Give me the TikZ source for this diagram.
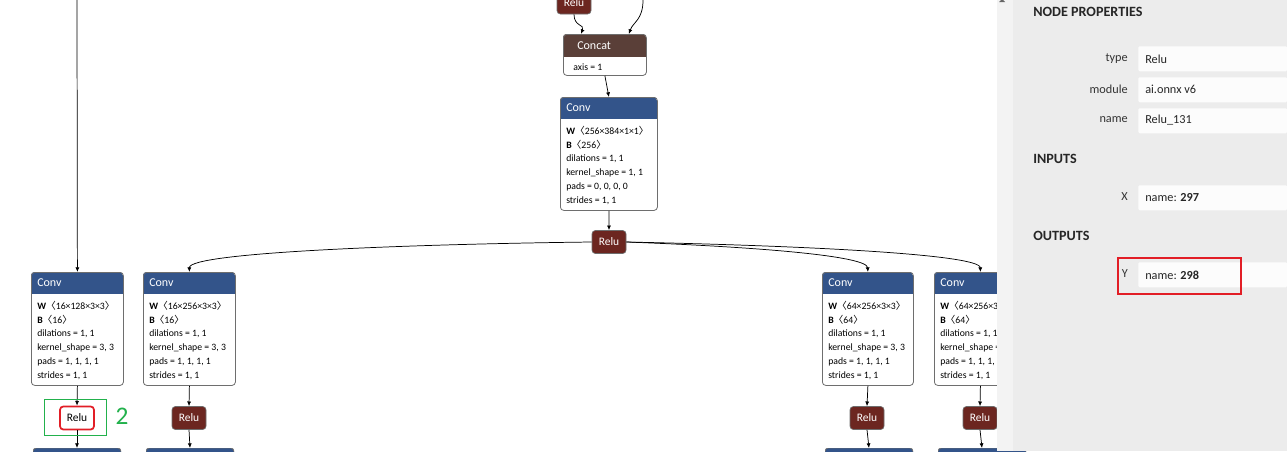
\documentclass[tikz,border=0pt]{standalone}
\usepackage{fontspec}
\setmainfont{Carlito}
\newfontfamily\cjkbr{Noto Sans CJK SC}
\usetikzlibrary{arrows.meta}
\definecolor{convblue}{RGB}{51,84,138}
\definecolor{concatbrown}{RGB}{90,63,56}
\definecolor{relured}{RGB}{108,38,32}
\definecolor{framegray}{RGB}{110,110,110}
\definecolor{panelbg}{RGB}{236,236,236}
\definecolor{stripbg}{RGB}{243,243,243}
\definecolor{valbg}{RGB}{252,252,252}
\definecolor{hlred}{RGB}{226,30,38}
\definecolor{hlgreen}{RGB}{34,177,76}
\newcommand\lb{{\cjkbr 〈}}
\newcommand\rb{{\cjkbr 〉}}
\tikzset{
  hdr/.style={font=\fontsize{9}{10}\selectfont, text=white, anchor=west, inner sep=0},
  attr/.style={font=\fontsize{7.3}{8}\selectfont, anchor=west, inner sep=0},
  opframe/.style={draw=framegray, line width=0.6pt, rounded corners=2.5pt, inner sep=0},
  relubox/.style={draw=framegray, line width=0.5pt, fill=relured, rounded corners=2.5pt,
     minimum width=34*0.75pt, minimum height=23*0.75pt, text=white,
     font=\fontsize{8.6}{9}\selectfont, inner sep=0},
  edge/.style={draw=black, line width=0.55pt, -{Latex[length=3.5pt,width=3pt]}},
  plabel/.style={font=\fontsize{9.2}{10}\selectfont, anchor=east, inner sep=0, text=black!80},
  phead/.style={font=\bfseries\fontsize{10.6}{11}\selectfont, anchor=west, inner sep=0, text=black!85},
  pval/.style={font=\fontsize{9.2}{10}\selectfont, anchor=west, inner sep=0, text=black!85},
  valbox/.style={fill=valbg, rounded corners=1pt, minimum width=149*0.75pt, minimum height=25*0.75pt, anchor=north west, inner sep=0},
}
% #1 name, #2 x, #3 y, #4 width, #5 W, #6 B, #7 kernel, #8 pads
\newcommand\convblk[8]{%
  \begin{scope}
    \clip[rounded corners=2.5pt] (#2,#3) rectangle ++(#4,113);
    \fill[white] (#2,#3) rectangle ++(#4,113);
    \fill[convblue] (#2,#3) rectangle ++(#4,22);
  \end{scope}
  \node[opframe, minimum width=#4*0.75pt, minimum height=113*0.75pt, anchor=north west] (#1) at (#2,#3) {};
  \node[hdr] (#1h) at ([shift={(6,11)}]#2,#3) {Conv};
  \node[attr] (#1w) at ([shift={(6,34)}]#2,#3) {\textbf{W}\lb#5\rb};
  \node[attr] (#1b) at ([shift={(6,48)}]#2,#3) {\textbf{B}\lb#6\rb};
  \node[attr] (#1d) at ([shift={(6,62)}]#2,#3) {dilations = 1, 1};
  \node[attr] (#1k) at ([shift={(6,76)}]#2,#3) {kernel\_shape = #7};
  \node[attr] (#1p) at ([shift={(6,90)}]#2,#3) {pads = #8};
  \node[attr] (#1s) at ([shift={(6,104)}]#2,#3) {strides = 1, 1};
}
\newcommand\partblk[3]{%
  \begin{scope}
    \clip (#2,#3) rectangle (#2+88,451);
    \fill[convblue, draw=framegray, line width=0.6pt, rounded corners=2.5pt] (#2,#3) rectangle ++(88,30);
  \end{scope}
  \coordinate (#1) at (#2+44,#3);
}
\begin{document}
\begin{tikzpicture}[x=0.75pt,y=-0.75pt]
\useasboundingbox (0,0) rectangle (1287,451);
\fill[white] (0,0) rectangle (1287,451);

% top partial Relu
\node[relubox, minimum height=28*0.75pt] (rtop) at (574,0) {};
\node[font=\fontsize{8.6}{9}\selectfont, text=white, inner sep=0] (rtopt) at (574,3) {Relu};
\coordinate (ctopin) at (643,0);

% Concat
\begin{scope}
  \clip[rounded corners=2.5pt] (563,34) rectangle ++(83,41);
  \fill[white] (563,34) rectangle ++(83,41);
  \fill[concatbrown] (563,34) rectangle ++(83,23);
\end{scope}
\node[opframe, minimum width=83*0.75pt, minimum height=41*0.75pt, anchor=north west] (concat) at (563,34) {};
\node[hdr] (concath) at (577,46) {Concat};
\node[attr] (concata) at (573,67) {axis = 1};

% Conv (top)
\convblk{ctop}{560}{97}{97}{256×384×1×1}{256}{1, 1}{0, 0, 0, 0}

% Relu (centre)
\node[relubox] (rmid) at (609,242) {Relu};

% lower Conv blocks
\convblk{ca}{31}{272}{92}{16×128×3×3}{16}{3, 3}{1, 1, 1, 1}
\convblk{cb}{143}{272}{92}{16×256×3×3}{16}{3, 3}{1, 1, 1, 1}
\convblk{cc}{822}{272}{91}{64×256×3×3}{64}{3, 3}{1, 1, 1, 1}
\convblk{cd}{934}{272}{92}{64×256×3×3}{64}{3, 3}{1, 1, 1, 1}

% lower Relus
\node[relubox, fill=white, draw=hlred, line width=1.3pt, text=black] (ra) at (77,418) {Relu};
\node[relubox] (rb) at (189,418) {Relu};
\node[relubox] (rc) at (867,418) {Relu};
\node[relubox] (rd) at (980,418) {Relu};

% partial blocks at the bottom
\partblk{na}{33}{448}
\partblk{nb}{146}{448}
\partblk{nc}{825}{448}
\partblk{nd}{938}{448}

% edges
\coordinate (leftin) at (77,0);
\draw[edge] (leftin) -- (ca.north);
\draw[edge] (rtop.south) .. controls (574,27) and (585,24) .. ([xshift=-24*0.75pt]concat.north);
\draw[edge] (ctopin) .. controls (643,20) and (633,22) .. ([xshift=24*0.75pt]concat.north);
\draw[edge] (concat.south) -- (ctop.north);
\draw[edge] (ctop.south) -- (rmid.north);
\draw[edge] (rmid.west) .. controls (420,244) and (189,252) .. (cb.north);
\draw[edge] (rmid.east) .. controls (760,247) and (867,256) .. (cc.north);
\draw[edge] (rmid.east) .. controls (820,246) and (980,255) .. (cd.north);
\draw[edge] (ca.south) -- (ra.north);
\draw[edge] (cb.south) -- (rb.north);
\draw[edge] (cc.south) -- (rc.north);
\draw[edge] (cd.south) -- (rd.north);
\draw[edge] (ra.south) -- (na);
\draw[edge] (rb.south) -- (nb);
\draw[edge] (rc.south) -- (nc);
\draw[edge] (rd.south) -- (nd);

% annotation
\node[draw=hlgreen, line width=1.3pt, minimum width=62*0.75pt, minimum height=36*0.75pt, inner sep=0] (gbox) at (75.5,417.5) {};
\node[text=hlgreen, font=\fontsize{19}{20}\selectfont, inner sep=0] (gnum) at (122,416) {2};

% side panel
\fill[stripbg] (997,0) rectangle (1013,451);
\fill[panelbg] (1013,0) rectangle (1287,451);
\fill[black!60] (999,2) -- (1005,2) -- (1002,-1) -- cycle;

\node[phead] (ptitle) at (1033,12) {NODE PROPERTIES};
\node[valbox] (btype) at (1138,46) {};
\node[valbox] (bmod) at (1138,77) {};
\node[valbox] (bname) at (1138,108) {};
\node[plabel] (ltype) at (1128,59) {type};
\node[plabel] (lmod) at (1128,89) {module};
\node[plabel] (lname) at (1128,120) {name};
\node[pval] (vtype) at (1145,59) {Relu};
\node[pval] (vmod) at (1145,89) {ai.onnx v6};
\node[pval] (vname) at (1145,120) {Relu\_131};

\node[phead] (pin) at (1033,159) {INPUTS};
\node[valbox] (bx) at (1138,185) {};
\node[plabel] (lx) at (1128,197) {X};
\node[pval] (vx) at (1145,198) {name: \textbf{297}};

\node[phead] (pout) at (1033,236) {OUTPUTS};
\node[valbox] (by) at (1138,262) {};
\node[plabel] (ly) at (1128,274) {Y};
\node[pval] (vy) at (1145,275) {name: \textbf{298}};
\node[draw=hlred, line width=1.4pt, minimum width=123*0.75pt, minimum height=36*0.75pt, anchor=north west, inner sep=0] (ysel) at (1117,257) {};
\end{tikzpicture}
\end{document}
